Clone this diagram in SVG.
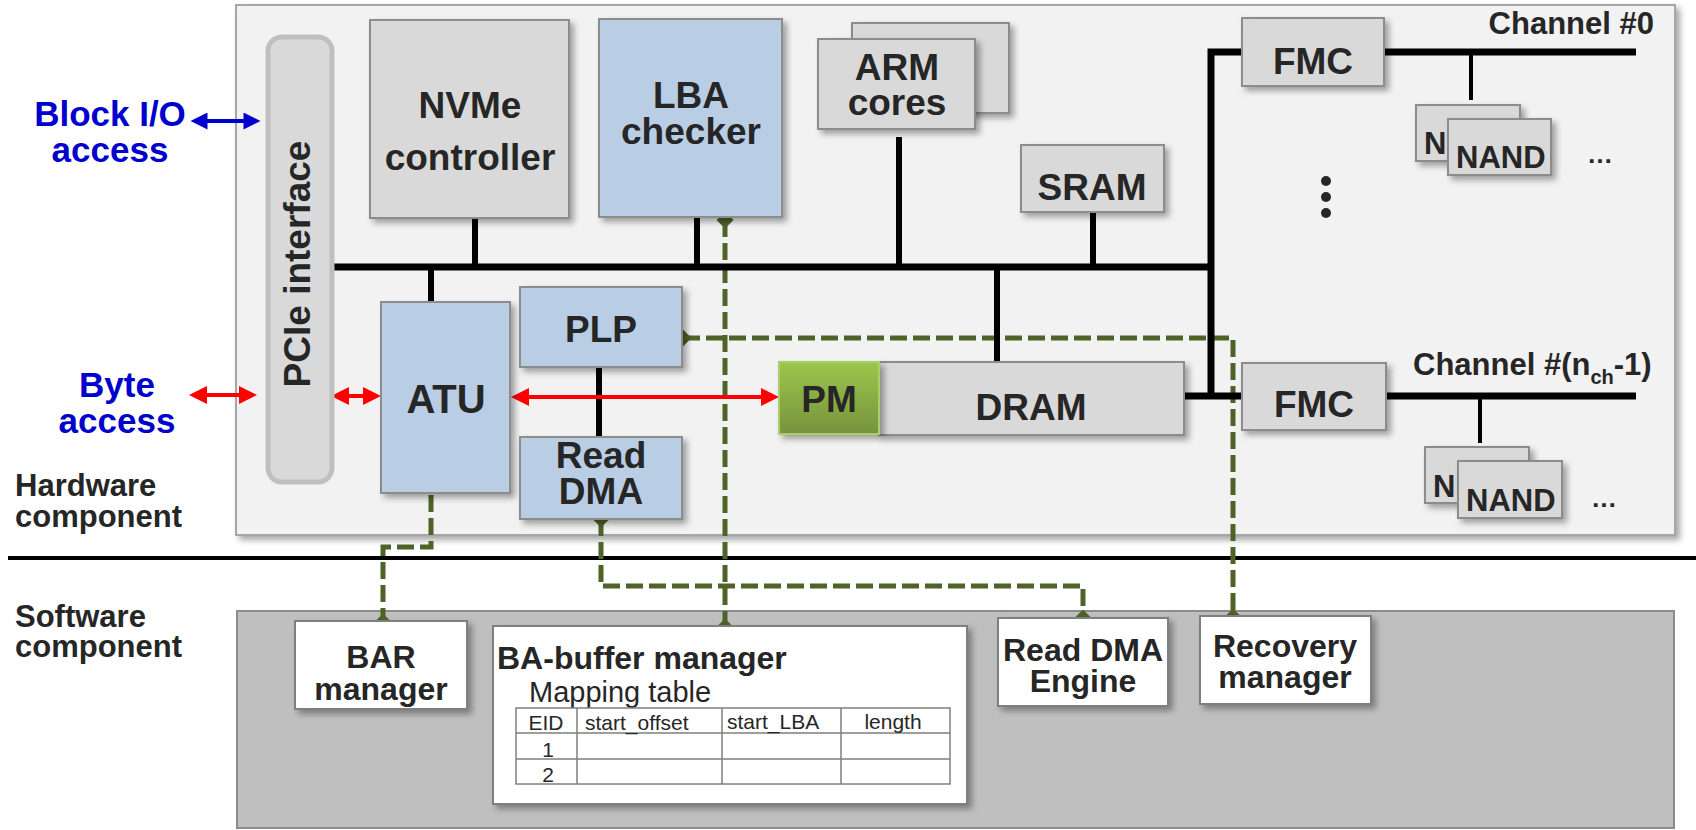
<svg xmlns="http://www.w3.org/2000/svg" width="1696" height="830" viewBox="0 0 1696 830">
  <defs>
    <filter id="sh" x="-10%" y="-10%" width="130%" height="130%">
      <feDropShadow dx="4" dy="4" stdDeviation="3" flood-color="#000" flood-opacity="0.35"/>
    </filter>
    <linearGradient id="pmGrad" x1="0" y1="0" x2="0" y2="1">
      <stop offset="0" stop-color="#9dc64c"/>
      <stop offset="1" stop-color="#76933c"/>
    </linearGradient>
    <marker id="redHead" viewBox="0 0 10 10" refX="5" refY="5" markerWidth="18" markerHeight="19" markerUnits="userSpaceOnUse" orient="auto-start-reverse">
      <path d="M0,0 L10,5 L0,10 z" fill="#ff0000"/>
    </marker>
    <marker id="blueHead" viewBox="0 0 10 10" refX="5" refY="5" markerWidth="18" markerHeight="17" markerUnits="userSpaceOnUse" orient="auto-start-reverse">
      <path d="M0,0 L10,5 L0,10 z" fill="#0000cc"/>
    </marker>
    <marker id="dia" viewBox="0 0 10 10" refX="5" refY="5" markerWidth="17" markerHeight="17" markerUnits="userSpaceOnUse" orient="0">
      <path d="M5,0 L10,5 L5,10 L0,5 z" fill="#4f6228"/>
    </marker>
  </defs>
  <style>
    text { font-family: "Liberation Sans", Arial, sans-serif; font-weight: bold; fill: #262626; }
    .c { text-anchor: middle; }
    .hw { font-size: 37px; }
    .sw { font-size: 32px; }
    .side { font-size: 31px; }
    .ch { font-size: 31px; }
    .nand { font-size: 31px; }
    .ext { font-size: 35px; fill: #0000cc; text-anchor: middle; }
    .reg { font-weight: normal; }
    .gbox { fill: #d9d9d9; stroke: #8c8c8c; stroke-width: 2; filter: url(#sh); }
    .bbox { fill: #b9cde5; stroke: #8c8c8c; stroke-width: 2; filter: url(#sh); }
    .wbox { fill: #ffffff; stroke: #7f7f7f; stroke-width: 2; filter: url(#sh); }
    .bus { stroke: #000; stroke-width: 7; fill: none; }
    .stub { stroke: #000; stroke-width: 6; fill: none; }
    .thin { stroke: #000; stroke-width: 4; fill: none; }
    .ctl { stroke: #4f6228; stroke-width: 5; stroke-dasharray: 17 6; fill: none; marker-start: url(#dia); marker-end: url(#dia); }
    .red { stroke: #ff0000; stroke-width: 4; fill: none; marker-start: url(#redHead); marker-end: url(#redHead); }
    .blue { stroke: #0000cc; stroke-width: 4; fill: none; marker-start: url(#blueHead); marker-end: url(#blueHead); }
    .grid { stroke: #7f7f7f; stroke-width: 1.5; fill: none; }
  </style>

  <!-- hardware / software areas -->
  <g id="hardware-area">
    <rect x="236" y="5" width="1439" height="530" fill="#f2f2f2" stroke="#a6a6a6" stroke-width="2" filter="url(#sh)"/>
  </g>
  <g id="software-area">
    <rect x="237" y="611" width="1437" height="217" fill="#bfbfbf" stroke="#8c8c8c" stroke-width="2"/>
  </g>
  <line x1="8" y1="558" x2="1696" y2="558" stroke="#000" stroke-width="4"/>

  <!-- side labels -->
  <g id="labels">
    <text class="ext" x="110" y="126">Block I/O</text>
    <text class="ext" x="110" y="162">access</text>
    <text class="ext" x="117" y="397">Byte</text>
    <text class="ext" x="117" y="433">access</text>
    <text class="side" x="15" y="496">Hardware</text>
    <text class="side" x="15" y="527">component</text>
    <text class="side" x="15" y="627">Software</text>
    <text class="side" x="15" y="657">component</text>
    <text class="ch" x="1654" y="34" text-anchor="end">Channel #0</text>
    <text class="ch" x="1413" y="375" font-size="32">Channel #(n<tspan font-size="20" dy="9">ch</tspan><tspan dy="-9">-1)</tspan></text>
  </g>

  <!-- control paths (dashed) -->
  <g id="control-links">
    <path class="ctl" d="M725 220 V627"/>
    <path class="ctl" d="M683 338 H1233 V617"/>
    <path class="ctl" d="M431 472 V547 H383 V622"/>
    <path class="ctl" d="M601 519 V586 H1083 V618"/>
  </g>

  <!-- buses and data paths -->
  <g id="connectors">
    <path class="bus" d="M334 267 H1214"/>
    <path class="bus" d="M1242 52 H1211 V396 M1184 396 H1242"/>
    <path class="bus" d="M1384 52 H1636 M1386 396 H1636"/>
    <path class="stub" d="M475 218 V267 M697 217 V267 M899 137 V267 M1093 212 V267 M431 267 V302 M997 267 V362 M599 367 V437"/>
    <path class="thin" d="M1471 52 V100 M1480 396 V443"/>
    <line class="blue" x1="199" y1="121" x2="252" y2="121"/>
    <line class="red" x1="198" y1="395" x2="248" y2="395"/>
    <line class="red" x1="340" y1="396" x2="372" y2="396"/>
    <line class="red" x1="520" y1="397" x2="770" y2="397"/>
  </g>

  <!-- hardware components -->
  <g id="pcie">
    <rect x="268" y="37" width="64" height="445" rx="14" fill="#d9d9d9" stroke="#bfbfbf" stroke-width="5"/>
    <text class="hw c" transform="translate(310 264) rotate(-90)">PCIe interface</text>
  </g>
  <g id="nvme">
    <rect class="gbox" x="370" y="20" width="199" height="198"/>
    <text class="hw c" x="470" y="118">NVMe</text>
    <text class="hw c" x="470" y="170">controller</text>
  </g>
  <g id="lba-checker">
    <rect class="bbox" x="599" y="19" width="183" height="198"/>
    <text class="hw c" x="691" y="108">LBA</text>
    <text class="hw c" x="691" y="144">checker</text>
  </g>
  <g id="arm-cores">
    <rect class="gbox" x="852" y="23" width="157" height="90"/>
    <rect class="gbox" x="818" y="39" width="157" height="90"/>
    <text class="hw c" x="897" y="80">ARM</text>
    <text class="hw c" x="897" y="115">cores</text>
  </g>
  <g id="sram">
    <rect class="gbox" x="1021" y="145" width="143" height="67"/>
    <text class="hw c" x="1092" y="200">SRAM</text>
  </g>
  <g id="fmc0">
    <rect class="gbox" x="1242" y="18" width="142" height="68"/>
    <text class="hw c" x="1313" y="74">FMC</text>
  </g>
  <g id="nand0">
    <rect class="gbox" x="1416" y="105" width="104" height="56"/>
    <text class="nand" x="1424" y="154">N</text>
    <rect class="gbox" x="1448" y="119" width="103" height="56"/>
    <text class="nand" x="1456" y="168">NAND</text>
    <text x="1587" y="163" font-size="26">…</text>
  </g>
  <g id="more-channels">
    <circle cx="1326" cy="181" r="5" fill="#262626"/>
    <circle cx="1326" cy="197" r="5" fill="#262626"/>
    <circle cx="1326" cy="213" r="5" fill="#262626"/>
  </g>
  <g id="fmc1">
    <rect class="gbox" x="1242" y="363" width="144" height="67"/>
    <text class="hw c" x="1314" y="417">FMC</text>
  </g>
  <g id="nand1">
    <rect class="gbox" x="1425" y="447" width="104" height="56"/>
    <text class="nand" x="1433" y="497">N</text>
    <rect class="gbox" x="1458" y="461" width="104" height="57"/>
    <text class="nand" x="1466" y="511">NAND</text>
    <text x="1591" y="507" font-size="26">…</text>
  </g>
  <g id="atu">
    <rect class="bbox" x="381" y="302" width="129" height="191"/>
    <text class="c" x="446" y="413" font-size="40">ATU</text>
  </g>
  <g id="plp">
    <rect class="bbox" x="520" y="287" width="162" height="80"/>
    <text class="hw c" x="601" y="342">PLP</text>
  </g>
  <g id="read-dma">
    <rect class="bbox" x="520" y="437" width="162" height="82"/>
    <text class="hw c" x="601" y="468">Read</text>
    <text class="hw c" x="601" y="504">DMA</text>
  </g>
  <g id="dram">
    <rect class="gbox" x="879" y="362" width="305" height="73"/>
    <text class="hw c" x="1031" y="420">DRAM</text>
  </g>
  <g id="pm">
    <rect x="779" y="362" width="100" height="72" fill="url(#pmGrad)" stroke="#a9cf6a" stroke-width="2" filter="url(#sh)"/>
    <text class="hw c" x="829" y="412">PM</text>
  </g>

  <!-- software components -->
  <g id="bar-manager">
    <rect class="wbox" x="295" y="621" width="172" height="88"/>
    <text class="sw c" x="381" y="668">BAR</text>
    <text class="sw c" x="381" y="700">manager</text>
  </g>
  <g id="ba-buffer-manager">
    <rect class="wbox" x="493" y="626" width="474" height="178"/>
    <text class="sw" x="497" y="669">BA-buffer manager</text>
    <text class="reg" x="529" y="702" font-size="29">Mapping table</text>
    <g id="mapping-table">
      <rect class="grid" x="516" y="708" width="434" height="76"/>
      <path class="grid" d="M516 733 H950 M516 759 H950 M577 708 V784 M722 708 V784 M841 708 V784"/>
      <text class="reg c" x="546" y="730" font-size="21">EID</text>
      <text class="reg" x="585" y="730" font-size="21">start_offset</text>
      <text class="reg" x="727" y="729" font-size="21">start_LBA</text>
      <text class="reg c" x="893" y="729" font-size="21">length</text>
      <text class="reg c" x="548" y="757" font-size="21">1</text>
      <text class="reg c" x="548" y="782" font-size="21">2</text>
    </g>
  </g>
  <g id="read-dma-engine">
    <rect class="wbox" x="998" y="618" width="170" height="88"/>
    <text class="sw c" x="1083" y="661">Read DMA</text>
    <text class="sw c" x="1083" y="692">Engine</text>
  </g>
  <g id="recovery-manager">
    <rect class="wbox" x="1200" y="616" width="171" height="88"/>
    <text class="sw c" x="1285" y="657">Recovery</text>
    <text class="sw c" x="1285" y="688">manager</text>
  </g>
</svg>
